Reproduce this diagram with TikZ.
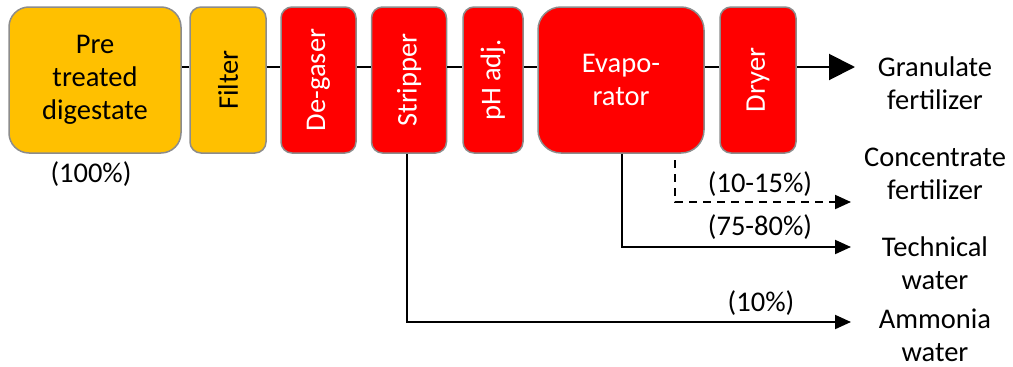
\documentclass[tikz,border=0pt]{standalone}
\usepackage{fontspec}
\setmainfont{Carlito}
\usetikzlibrary{arrows.meta}
\definecolor{boxyellow}{HTML}{FFC000}
\definecolor{boxred}{HTML}{FF0000}
\definecolor{boxborder}{HTML}{8C8C8C}
\begin{document}
\begin{tikzpicture}[x=1pt,y=-1pt,
  every node/.style={font=\fontsize{28.5}{33}\selectfont, inner sep=0pt, align=center},
  unit/.style={draw=boxborder, line width=1.5pt, minimum height=146pt},
  yunit/.style={unit, fill=boxyellow, text=black},
  runit/.style={unit, fill=boxred, text=white},
  flow/.style={line width=2pt, draw=black},
  smallarrow/.style={flow, -{Triangle[length=16pt,width=14pt]}},
  bigarrow/.style={flow, -{Triangle[length=26pt,width=26pt]}},
  dashflow/.style={smallarrow, dash pattern=on 8pt off 6pt}
]
\useasboundingbox (0,0) rectangle (1013,367);

\node[yunit, minimum width=172pt, rounded corners=20pt] (pre) at (95,80) {Pre\\treated\\digestate};
\node[yunit, minimum width=76pt, rounded corners=11pt] (filter) at (228,80) {\rotatebox{90}{Filter}};
\node[runit, minimum width=75pt, rounded corners=11pt] (degas) at (318.5,80) {\rotatebox{90}{De-gaser}};
\node[runit, minimum width=75pt, rounded corners=11pt] (strip) at (409,80) {\rotatebox{90}{Stripper}};
\node[runit, minimum width=60pt, rounded corners=11pt] (ph) at (493,80) {\rotatebox{90}{pH adj.}};
\node[runit, minimum width=166pt, rounded corners=23pt] (evap) at (621,80) {Evapo-\\rator};
\node[runit, minimum width=76pt, rounded corners=11pt] (dryer) at (758,80) {\rotatebox{90}{Dryer}};

\node (gran) at (935,83) {Granulate\\fertilizer};
\node (conc) at (935,174) {Concentrate\\fertilizer};
\node (tech) at (935,263) {Technical\\water};
\node (ammo) at (935,335) {Ammonia\\water};

\node (p100) at (91,174) {(100\%)};
\node (p1015) at (760,184) {(10-15\%)};
\node (p7580) at (760,227) {(75-80\%)};
\node (p10) at (761,303) {(10\%)};

\coordinate (granend) at (855,67);
\coordinate (concend) at (851,202);
\coordinate (techend) at (851,247);
\coordinate (ammoend) at (851,322);
\coordinate (dashtop) at (675,160);

\draw[flow] (pre.east |- 0,67) -- (filter.west |- 0,67);
\draw[flow] (filter.east |- 0,67) -- (degas.west |- 0,67);
\draw[flow] (degas.east |- 0,67) -- (strip.west |- 0,67);
\draw[flow] (strip.east |- 0,67) -- (ph.west |- 0,67);
\draw[flow] (ph.east |- 0,67) -- (evap.west |- 0,67);
\draw[flow] (evap.east |- 0,67) -- (dryer.west |- 0,67);
\draw[bigarrow] (dryer.east |- 0,67) -- (granend);

\draw[dashflow] (dashtop) |- (concend);
\draw[smallarrow] ([xshift=1pt]evap.south) |- (techend);
\draw[smallarrow] ([xshift=-2pt]strip.south) |- (ammoend);
\end{tikzpicture}
\end{document}
